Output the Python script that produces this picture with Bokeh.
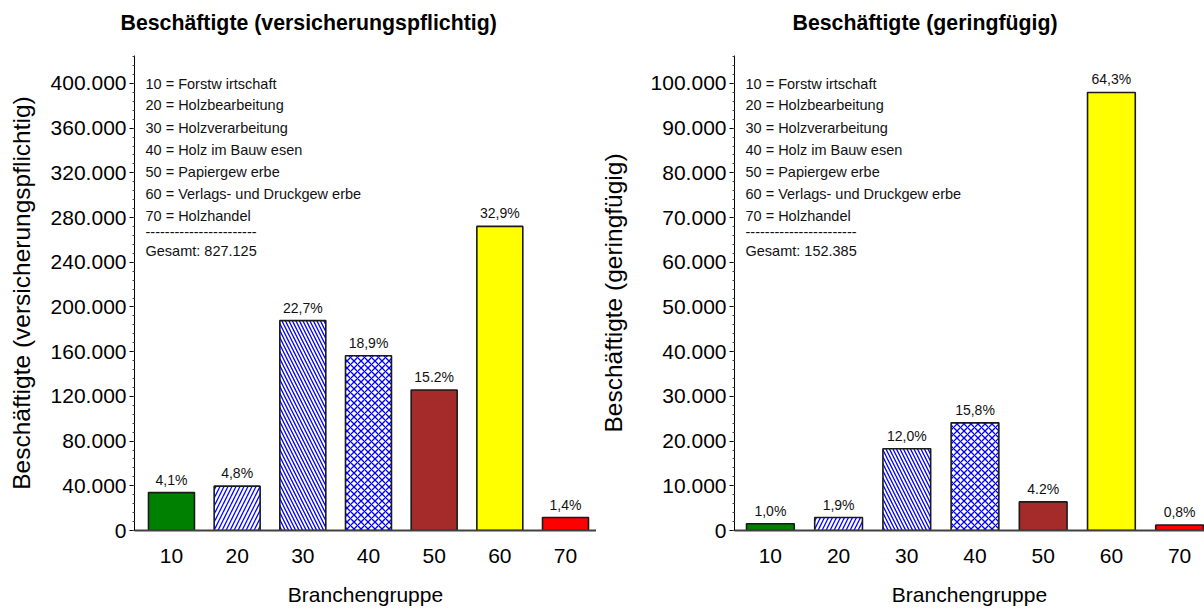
from bokeh.plotting import figure
from bokeh.layouts import row
from bokeh.models import Range1d, FixedTicker, Label, ColumnDataSource, Title
from bokeh.embed import file_html
from bokeh.resources import INLINE
from bokeh.core.properties import value

# ---------------- data ----------------
groups = [10, 20, 30, 40, 50, 60, 70]
group_labels = ["10", "20", "30", "40", "50", "60", "70"]
legend_lines = [
    "10 = Forstw irtschaft",
    "20 = Holzbearbeitung",
    "30 = Holzverarbeitung",
    "40 = Holz im Bauw esen",
    "50 = Papiergew erbe",
    "60 = Verlags- und Druckgew erbe",
    "70 = Holzhandel",
]
vp_title = "Beschäftigte (versicherungspflichtig)"
vp_total = "Gesamt: 827.125"
vp_values = [33900, 39700, 187800, 156300, 125700, 272100, 11600]
vp_pct = ["4,1%", "4,8%", "22,7%", "18,9%", "15.2%", "32,9%", "1,4%"]
vp_yticks = [0, 40000, 80000, 120000, 160000, 200000, 240000, 280000, 320000, 360000, 400000]
vp_yticklabels = ["0", "40.000", "80.000", "120.000", "160.000", "200.000", "240.000",
                  "280.000", "320.000", "360.000", "400.000"]

gf_title = "Beschäftigte (geringfügig)"
gf_total = "Gesamt: 152.385"
gf_values = [1520, 2900, 18290, 24080, 6400, 97990, 1220]
gf_pct = ["1,0%", "1,9%", "12,0%", "15,8%", "4.2%", "64,3%", "0,8%"]
gf_yticks = [0, 10000, 20000, 30000, 40000, 50000, 60000, 70000, 80000, 90000, 100000]
gf_yticklabels = ["0", "10.000", "20.000", "30.000", "40.000", "50.000", "60.000",
                  "70.000", "80.000", "90.000", "100.000"]

x_title = "Branchengruppe"

# ---------------- styles ----------------
fill_colors = ["#008000", "#FFFFFF", "#FFFFFF", "#FFFFFF", "#A52A2A", "#FFFF00", "#FF0000"]
hatches = [" ", "right_diagonal_line", "left_diagonal_line", "diagonal_cross", " ", " ", " "]
hatch_scales = [8, 8, 7, 7, 8, 8, 8]
FONT = "Liberation Sans"
H = 610
TOP, BOTTOM = 55, 80


def make_fig(values, pct, ymax, yticks, yticklabels, minor_step, title, title_off, ylabel,
             total, xr, width, bl, ylabel_standoff):
    p = figure(width=width, height=H, output_backend="svg", toolbar_location=None,
               x_range=Range1d(*xr), y_range=Range1d(0, ymax),
               min_border_left=bl, min_border_right=0, min_border_top=TOP,
               min_border_bottom=BOTTOM)
    p.outline_line_color = None
    p.grid.grid_line_color = None
    p.background_fill_color = "white"
    p.border_fill_color = "white"

    p.title = Title(text=title, align="left", offset=title_off, text_font=FONT,
                    text_font_size="21.3px", text_font_style="bold", text_color="black",
                    vertical_align="bottom", standoff=0)
    # spacer between title and plot frame
    p.add_layout(Title(text=" ", text_font_size="2px", standoff=17), "above")

    src = ColumnDataSource(dict(x=groups, top=values, pct=pct, fill=fill_colors,
                                hatch=hatches, hs=hatch_scales))
    p.vbar(x="x", top="top", width=7.0, source=src, fill_color="fill",
           line_color="#1a1a1a", line_width=1.6,
           hatch_pattern="hatch", hatch_color="#0000FF", hatch_scale="hs", hatch_weight=1.3)
    p.text(x="x", y="top", text="pct", source=src, text_align="center",
           text_baseline="bottom", y_offset=-5, text_font=value(FONT),
           text_font_size="14px", text_color="#111111")

    # y axis
    ya = p.yaxis[0]
    ya.ticker = FixedTicker(ticks=yticks,
                            minor_ticks=[i * minor_step for i in range(int(ymax // minor_step) + 1)])
    ya.major_label_overrides = {t: l for t, l in zip(yticks, yticklabels)}
    ya.axis_line_color = "black"
    ya.axis_line_width = 1
    ya.major_tick_in = 0
    ya.major_tick_out = 5
    ya.major_tick_line_color = "black"
    ya.minor_tick_in = 0
    ya.minor_tick_out = 2
    ya.minor_tick_line_color = "#444444"
    ya.major_label_text_font = FONT
    ya.major_label_text_font_size = "21px"
    ya.major_label_text_color = "black"
    ya.major_label_standoff = 3
    ya.axis_label = ylabel
    ya.axis_label_text_font = FONT
    ya.axis_label_text_font_size = "24.5px"
    ya.axis_label_text_font_style = "normal"
    ya.axis_label_text_color = "black"
    ya.axis_label_standoff = ylabel_standoff

    # x axis
    xa = p.xaxis[0]
    xa.ticker = FixedTicker(ticks=groups)
    xa.major_label_overrides = {g: l for g, l in zip(groups, group_labels)}
    xa.axis_line_color = "#404040"
    xa.axis_line_width = 2
    xa.major_tick_line_color = None
    xa.minor_tick_line_color = None
    xa.major_label_text_font = FONT
    xa.major_label_text_font_size = "21px"
    xa.major_label_text_color = "black"
    xa.major_label_standoff = 12
    xa.axis_label = x_title
    xa.axis_label_text_font = FONT
    xa.axis_label_text_font_size = "21px"
    xa.axis_label_text_font_style = "normal"
    xa.axis_label_text_color = "black"
    xa.axis_label_standoff = 17

    # legend-like text block (screen coords relative to the frame)
    lines = legend_lines + ["-" * 23, total]
    ys = [83, 104, 127, 149, 171, 193, 215, 231, 250]
    for t, yy in zip(lines, ys):
        p.add_layout(Label(x=11, y=530 - yy, x_units="screen", y_units="screen",
                           text=t, text_font=FONT, text_font_size="14.5px",
                           text_align="left", text_baseline="middle", text_color="#111111"))
    return p


p1 = make_fig(vp_values, vp_pct, 425000, vp_yticks, vp_yticklabels, 8000, vp_title, -14,
              vp_title, vp_total, (4.37, 74.72), 596, 134, 13)
p2 = make_fig(gf_values, gf_pct, 106250, gf_yticks, gf_yticklabels, 2000, gf_title, 58,
              gf_title, gf_total, (4.74, 73.65), 608, 136, 21)

layout = row(p1, p2)
open("out.html", "w").write(file_html(layout, INLINE))
